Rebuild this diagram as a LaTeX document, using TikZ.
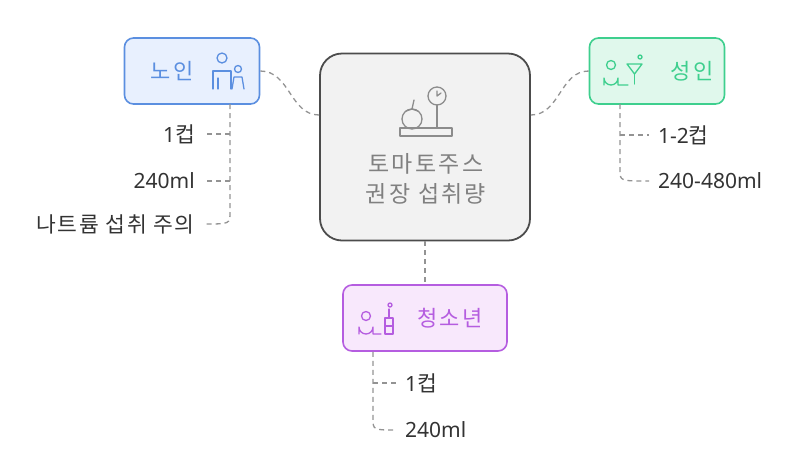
\documentclass[tikz,border=0pt]{standalone}
\usepackage{fontspec}
\setmainfont{Noto Sans CJK KR}[LetterSpace=8]
\newfontfamily\lat{Noto Sans}
\newcommand\LT[1]{{\lat\fontsize{21}{24}\selectfont #1}}
\begin{document}
\begin{tikzpicture}[x=1pt,y=-1pt,
  conn/.style={draw=gray!85,dashed,dash pattern=on 5pt off 4pt,line width=1.3pt},
  br/.style={conn,shorten >=8pt},
  lab/.style={font=\fontsize{21.5}{24}\selectfont,text=black!80,inner sep=1pt},
  icn/.style={line width=1.3pt,line cap=round,line join=round}]
\useasboundingbox (0,0) rectangle (798,459);
\definecolor{bl}{HTML}{5B8FE0}\definecolor{blf}{HTML}{E8F0FE}
\definecolor{gr}{HTML}{3ECF8E}\definecolor{grf}{HTML}{E0F8EC}
\definecolor{pu}{HTML}{B55DE0}\definecolor{puf}{HTML}{F8E8FC}
\node[draw=black!70,fill=black!5,line width=1.8pt,rounded corners=22pt,minimum width=210pt,minimum height=187pt] (c) at (425,147) {};
\node[text=black!50,align=center,font=\fontsize{23}{30}\selectfont\addfontfeature{LetterSpace=10}] (ct) at (426,179) {토마토주스\\권장 섭취량};
\node[draw=bl,fill=blf,line width=1.6pt,rounded corners=9pt,minimum width=135pt,minimum height=66pt] (o) at (192,71) {};
\node[draw=gr,fill=grf,line width=1.6pt,rounded corners=9pt,minimum width=135pt,minimum height=66pt] (a) at (657,71) {};
\node[draw=pu,fill=puf,line width=1.6pt,rounded corners=9pt,minimum width=164pt,minimum height=66pt] (y) at (425,318) {};
\node[lab,text=bl,font=\fontsize{22}{24}\selectfont\addfontfeature{LetterSpace=10}] (ot) at (172,71) {노인};
\node[lab,text=gr,font=\fontsize{22}{24}\selectfont\addfontfeature{LetterSpace=10}] (at) at (692,71) {성인};
\node[lab,text=pu,font=\fontsize{22}{24}\selectfont\addfontfeature{LetterSpace=10}] (yt) at (450,318) {청소년};
% icons
\begin{scope}[icn,draw=black!45]
\draw (412,119) circle (10);\draw (412,109)--(414,100);\draw(406,111)--(412,109)--(418,111);
\draw (437,96) circle (9);\draw (437,105)--(437,128);\draw (400,128)--(452,128)--(452,136)--(400,136)--cycle;\draw(437,91)--(437,96)--(441,93);
\end{scope}
\begin{scope}[icn,draw=bl]
\draw (222,58) circle (5);\draw (213,89)--(213,71)--(231,71)--(231,89);\draw(218,78)--(218,89);
\draw (238,69) circle (3.5);\draw (232,89)--(234,77)--(242,77)--(244,89);
\end{scope}
\begin{scope}[icn,draw=gr]
\draw (611,65) circle (4.5);\draw (604,85)--(604,78) arc(180:0:7)--(618,85)--(628,85);
\draw (627,64)--(642,64)--(634.5,74)--cycle;\draw(634.5,74)--(634.5,84);\draw(640,57) circle(2);
\end{scope}
\begin{scope}[icn,draw=pu]
\draw (366,316) circle (4.5);\draw (359,334)--(359,327) arc(180:0:7)--(373,334)--(381,334);
\draw (385,334)--(385,318)--(393,318)--(393,334)--cycle;\draw(389,318)--(389,309);\draw(390,305) circle(2);\draw(385,326)--(393,326);
\end{scope}
% connectors
\draw[conn] (o.east) .. controls (290,71) and (290,115) .. (c.west |- 0,115);
\draw[conn] (a.west) .. controls (560,71) and (560,115) .. (c.east |- 0,115);
\draw[conn] (c.south) -- (y.north);
% children
\node[lab,anchor=east] (o1) at (196,134) {\LT{1}컵};
\node[lab,anchor=east] (o2) at (196,181) {\LT{240ml}};
\node[lab,anchor=east] (o3) at (196,224) {나트륨 섭취 주의};
\node[lab,anchor=west] (a1) at (657,135) {\LT{1-2}컵};
\node[lab,anchor=west] (a2) at (657,181) {\LT{240-480ml}};
\node[lab,anchor=west] (y1) at (404,383) {\LT{1}컵};
\node[lab,anchor=west] (y2) at (404,430) {\LT{240ml}};
\coordinate (ob) at (230,104);
\draw[br] (ob) -- (230,212) .. controls (230,224) .. (o3.east);
\draw[br] (230,134) -- (o1.east);\draw[br] (230,181) -- (o2.east);
\coordinate (ab) at (620,104);
\draw[br] (ab) -- (620,170) .. controls (620,181) .. (a2.west);
\draw[br] (620,135) -- (a1.west);
\draw[br] (y.south -| 373,0) -- (373,418) .. controls (373,430) .. (y2.west);
\draw[br] (373,383) -- (y1.west);
\end{tikzpicture}
\end{document}
